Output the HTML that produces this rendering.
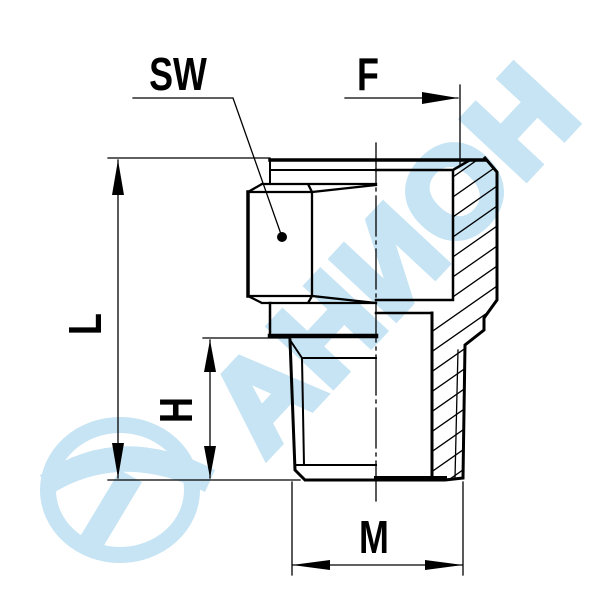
<!DOCTYPE html>
<html><head><meta charset="utf-8"><style>
html,body{margin:0;padding:0;background:#fff}
svg{display:block}
</style></head><body>
<svg width="600" height="600" viewBox="0 0 600 600" xmlns="http://www.w3.org/2000/svg">
<defs>
<clipPath id="hatch"><path d="M453,170 L470,160 L485,158 L497,172 L497,300 L484,318 L484,330 L465,345 L463,478 L432,478 L432,313 L453,300 Z"/></clipPath>
</defs>
<!-- watermark -->
<g fill="#c6e4f4">
<text x="0" y="0" transform="translate(400,265) rotate(-47)" font-family="Liberation Sans, DejaVu Sans, sans-serif" font-weight="bold" font-size="125" text-anchor="middle" dominant-baseline="middle" stroke="#c6e4f4" stroke-width="8" letter-spacing="2">АНИОН</text>
<ellipse cx="120" cy="490" rx="72" ry="65" fill="none" stroke="#c6e4f4" stroke-width="16"/>
<path d="M40,475 Q120,420 215,470 L205,492 Q120,450 50,495 Z"/>
<path d="M75,545 L120,470 L142,482 L100,552 Z"/>
</g>
<g stroke="#000" fill="none" stroke-linecap="square">
<g clip-path="url(#hatch)" stroke-width="1.3">
<path d="M420,200 L520,130 M420,220 L520,150 M420,240 L520,170 M420,260 L520,190 M420,280 L520,210 M420,300 L520,230 M420,320 L520,250 M420,340 L520,270 M420,360 L520,290 M420,380 L520,310 M420,400 L520,330 M420,420 L520,350 M420,440 L520,370 M420,460 L520,390 M420,480 L520,410 M420,500 L520,430 M420,520 L520,450 M420,540 L520,470 M420,560 L520,490"/>
</g>
<!-- top flange -->
<path d="M270,160 L485,160" stroke-width="3.5"/>
<path d="M270,160 L270,184 M270,170 L376,170" stroke-width="2"/>
<!-- hex -->
<path d="M248,192 L262,184 L376,184 M262,184 L308,184 L312,192 L376,185 M248,192 L312,192 M312,192 L312,296 M248,296 L262,303 L308,303 L312,296 L376,303 M248,296 L312,296 M262,303 L376,303" stroke-width="2.3"/>
<path d="M248,192 L248,296" stroke-width="3.5"/>
<!-- collar -->
<path d="M270,303 L270,335" stroke-width="2.5"/>
<path d="M270,336 L376,336" stroke-width="4.5"/>
<!-- section right -->
<path d="M376,170 L453,170 L453,300 L376,300 M453,170 L470,160 M376,313 L432,313" stroke-width="2.5"/>
<path d="M485,158 L497,172 L497,300 L484,318 L484,330 L465,345 L463,478 L445,480 L376,480" stroke-width="3"/>
<path d="M432,313 L432,478" stroke-width="3"/>
<path d="M458,350 L455,478" stroke-width="1.3"/>
<!-- lower thread -->
<path d="M290,340 L295,470 L305,480 L376,480" stroke-width="3"/>
<path d="M290,340 L302,358 L304,465 M302,358 L376,358 M296,465 L376,465" stroke-width="2"/>
<path d="M376,478 L445,478" stroke-width="4"/>
<path d="M376,143 L376,505" stroke-width="1.3" stroke-dasharray="40,5,3,5"/>
<g stroke-width="1.3">
<path d="M108,158 L270,158 M108,480 L300,480 M118,160 L118,478"/>
<path d="M203,338 L290,338 M210,340 L210,478"/>
<path d="M292,482 L292,575 M463,482 L463,575 M292,565 L463,565"/>
<path d="M345,98 L458,98 M460,85 L460,165"/>
<path d="M133,98 L233,98 L282,237"/>
</g>
</g>
<g fill="#000">
<path d="M118,160 L112,195 L124,195 Z M118,478 L112,443 L124,443 Z"/>
<path d="M210,340 L204,372 L216,372 Z M210,478 L204,446 L216,446 Z"/>
<path d="M292,565 L330,560 L330,570 Z M463,565 L425,560 L425,570 Z"/>
<path d="M458,98 L422,92 L422,104 Z"/>
<circle cx="282" cy="237" r="5"/>
</g>
<g font-family="Liberation Sans, DejaVu Sans, sans-serif" font-size="46" font-weight="bold" fill="#000">
<text x="0" y="0" transform="translate(178,90) scale(0.78,1)" text-anchor="middle">SW</text>
<text x="0" y="0" transform="translate(368,90) scale(0.78,1)" text-anchor="middle">F</text>
<text x="0" y="0" transform="translate(374,553) scale(0.78,1)" text-anchor="middle">M</text>
<text x="0" y="0" transform="translate(101,324) rotate(-90) scale(0.78,1)" text-anchor="middle">L</text>
<text x="0" y="0" transform="translate(192,410) rotate(-90) scale(0.78,1)" text-anchor="middle">H</text>
</g>
</svg>
</body></html>
